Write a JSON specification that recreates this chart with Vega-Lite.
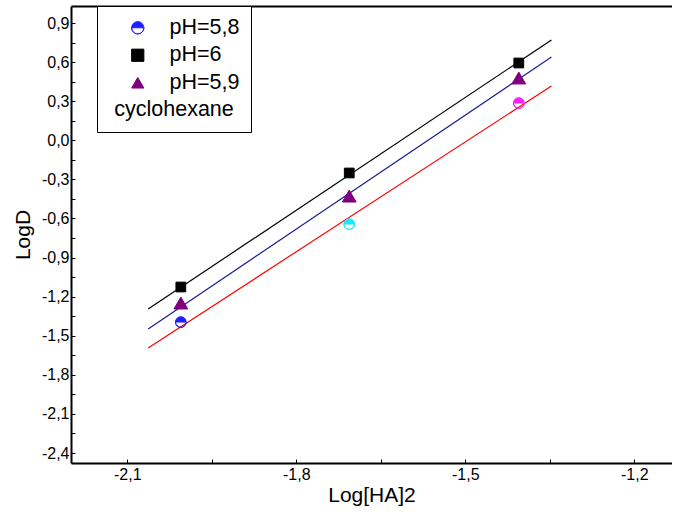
{
  "$schema": "https://vega.github.io/schema/vega-lite/v6.json",
  "width": 601,
  "height": 457,
  "autosize": {"type": "none"},
  "padding": {"left": 71, "top": 6, "right": 0, "bottom": 47},
  "background": "white",
  "config": {
    "font": "Liberation Sans",
    "view": {"stroke": null},
    "axis": {"grid": false, "domainColor": "black", "domainWidth": 2, "tickColor": "black", "tickWidth": 1, "labelColor": "black", "titleColor": "black", "labelFontSize": 16, "titleFontSize": 21, "titleFontWeight": "normal", "labelOverlap": false, "labelFlush": false}
  },
  "datasets": {
    "pts": [
      {"x": -2.005, "y": -1.126, "s": "pH=6", "g": "pH=6"},
      {"x": -1.706, "y": -0.251, "s": "pH=6", "g": "pH=6"},
      {"x": -1.405, "y": 0.593, "s": "pH=6", "g": "pH=6"},
      {"x": -2.005, "y": -1.249, "s": "pH=5,9", "g": "pH=5,9"},
      {"x": -1.706, "y": -0.428, "s": "pH=5,9", "g": "pH=5,9"},
      {"x": -1.405, "y": 0.478, "s": "pH=5,9", "g": "pH=5,9"},
      {"x": -2.005, "y": -1.395, "s": "pH=5,8", "g": "pH=5,8"},
      {"x": -1.706, "y": -0.643, "s": "pH=5,8", "g": "pH=5,8 b"},
      {"x": -1.405, "y": 0.286, "s": "pH=5,8", "g": "pH=5,8 c"}
    ],
    "fits": [
      {"x": -2.063, "y": -1.295, "fit": "pH=6"},
      {"x": -1.347, "y": 0.77, "fit": "pH=6"},
      {"x": -2.063, "y": -1.448, "fit": "pH=5,9"},
      {"x": -1.347, "y": 0.639, "fit": "pH=5,9"},
      {"x": -2.063, "y": -1.594, "fit": "pH=5,8"},
      {"x": -1.347, "y": 0.417, "fit": "pH=5,8"}
    ]
  },
  "encoding": {
    "y": {
      "field": "y", "type": "quantitative",
      "scale": {"domain": [-2.4767, 1.0305], "nice": false, "zero": false},
      "axis": {
        "orient": "left", "title": "LogD", "titlePadding": 8,
        "values": [-2.4, -2.25, -2.1, -1.95, -1.8, -1.65, -1.5, -1.35, -1.2, -1.05, -0.9, -0.75, -0.6, -0.45, -0.3, -0.15, 0, 0.15, 0.3, 0.45, 0.6, 0.75, 0.9],
        "tickSize": -4, "labelPadding": 6,
        "labelExpr": "abs(datum.value*10 - round(datum.value*10)) < 0.01 ? replace(replace(format(datum.value, '.1f'), '.', ','), '\u2212', '-') : ''"
      }
    }
  },
  "layer": [
    {
      "data": {"name": "fits"},
      "mark": {"type": "line", "strokeWidth": 1.2},
      "encoding": {
        "x": {
          "field": "x", "type": "quantitative",
          "scale": {"domain": [-2.2, -1.133], "nice": false, "zero": false},
          "axis": {
            "orient": "bottom", "title": "Log[HA]2", "titlePadding": 2,
            "values": [-2.1, -1.95, -1.8, -1.65, -1.5, -1.35, -1.2],
            "tickSize": -4, "labelPadding": 7,
            "labelExpr": "abs(datum.value*10 - round(datum.value*10)) < 0.01 ? replace(replace(format(datum.value, '.1f'), '.', ','), '\u2212', '-') : ''"
          }
        },
        "color": {
          "field": "fit", "type": "nominal",
          "scale": {"domain": ["pH=6", "pH=5,9", "pH=5,8"], "range": ["#000000", "#1c1c94", "#ff0000"]},
          "legend": null
        }
      }
    },
    {
      "data": {"name": "pts"},
      "mark": {"type": "point", "filled": true, "opacity": 1, "strokeWidth": 1},
      "encoding": {
        "x": {
          "field": "x", "type": "quantitative",
          "scale": {"domain": [-2.2, -1.133], "nice": false, "zero": false},
          "axis": {"orient": "top", "title": null, "labels": false, "ticks": false}
        },
        "shape": {
          "field": "g", "type": "nominal",
          "scale": {"domain": ["pH=5,8", "pH=6", "pH=5,9", "pH=5,8 b", "pH=5,8 c"], "range": ["M-1,0A1,1,0,0,1,1,0Z M1,0A1,1,0,0,1,-1,0A1,1,0,0,0,1,0", "square", "triangle-up", "M-1,0A1,1,0,0,1,1,0Z M1,0A1,1,0,0,1,-1,0A1,1,0,0,0,1,0", "M-1,0A1,1,0,0,1,1,0Z M1,0A1,1,0,0,1,-1,0A1,1,0,0,0,1,0"]},
          "legend": {
            "values": ["pH=5,8", "pH=6", "pH=5,9"],
            "title": "cyclohexane", "orient": "none", "legendX": 26, "legendY": 0, "direction": "vertical",
            "titleOrient": "bottom", "titleAnchor": "middle", "titleFontSize": 21.5, "titleFontWeight": "normal", "titleColor": "black", "titlePadding": 6,
            "labelFontSize": 21.5, "labelColor": "black", "labelOffset": 21, "symbolOffset": 19, "symbolSize": 150, "symbolStrokeWidth": 1,
            "rowPadding": 4.5, "padding": 11, "strokeColor": "black", "fillColor": "white"
          }
        },
        "fill": {
          "field": "g", "type": "nominal",
          "scale": {"domain": ["pH=5,8", "pH=6", "pH=5,9", "pH=5,8 b", "pH=5,8 c"], "range": ["#1f1fff", "#000000", "#800080", "#1ee6ff", "#ff1aff"]},
          "legend": {
            "values": ["pH=5,8", "pH=6", "pH=5,9"],
            "title": "cyclohexane", "orient": "none", "legendX": 26, "legendY": 0, "direction": "vertical",
            "titleOrient": "bottom", "titleAnchor": "middle", "titleFontSize": 21.5, "titleFontWeight": "normal", "titleColor": "black", "titlePadding": 6,
            "labelFontSize": 21.5, "labelColor": "black", "labelOffset": 21, "symbolOffset": 19, "symbolSize": 150, "symbolStrokeWidth": 1,
            "rowPadding": 4.5, "padding": 11, "strokeColor": "black", "fillColor": "white"
          }
        },
        "stroke": {
          "field": "g", "type": "nominal",
          "scale": {"domain": ["pH=5,8", "pH=6", "pH=5,9", "pH=5,8 b", "pH=5,8 c"], "range": ["#1f1fff", "#000000", "#800080", "#1ee6ff", "#ff1aff"]},
          "legend": {
            "values": ["pH=5,8", "pH=6", "pH=5,9"],
            "title": "cyclohexane", "orient": "none", "legendX": 26, "legendY": 0, "direction": "vertical",
            "titleOrient": "bottom", "titleAnchor": "middle", "titleFontSize": 21.5, "titleFontWeight": "normal", "titleColor": "black", "titlePadding": 6,
            "labelFontSize": 21.5, "labelColor": "black", "labelOffset": 21, "symbolOffset": 19, "symbolSize": 150, "symbolStrokeWidth": 1,
            "rowPadding": 4.5, "padding": 11, "strokeColor": "black", "fillColor": "white"
          }
        },
        "size": {
          "field": "s", "type": "nominal",
          "scale": {"type": "ordinal", "domain": ["pH=6", "pH=5,9", "pH=5,8"], "range": [95, 190, 115]},
          "legend": null
        }
      }
    }
  ],
  "resolve": {"axis": {"x": "independent"}}
}
